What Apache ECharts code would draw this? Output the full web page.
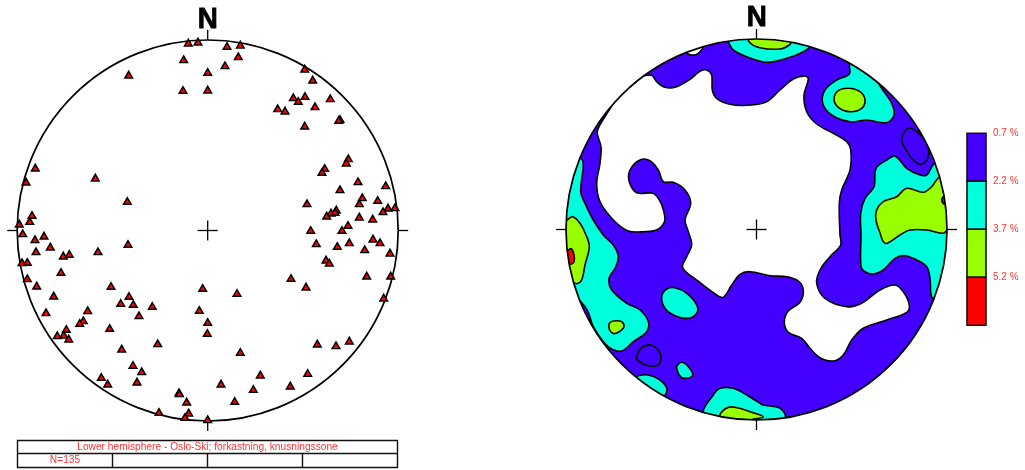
<!DOCTYPE html>
<html><head><meta charset="utf-8">
<style>html,body{margin:0;padding:0;background:#fff}#c{width:1025px;height:470px}</style>
<script src="https://cdn.jsdelivr.net/npm/echarts@6/dist/echarts.min.js"></script>
</head><body><div id="c"></div>
<script>
// Pole points, east / north offsets from the net centre (net radius = 190.5 units)
const polesNW = [[-19.4,187.8],[-9.7,188.8],[-24,171.2],[0,158.5],[-79,155.8],[-24.7,140.5],[0,140.8],[-172.4,62.8],[-181.7,48.8],[-112.4,52.8],[-80.4,29.5],[-175.7,15.5],[-178,9.5],[-188.4,6.8]];
const polesSW = [[-185,-2.8],[-163.7,-5.2],[-172.7,-8.8],[-157.4,-16.2],[-171.7,-20.8],[-109.7,-20.8],[-79.7,-13.5],[-144.4,-25.2],[-138.4,-23.5],[-185.7,-31.8],[-180.4,-31.5],[-146.7,-41.5],[-180.4,-47.8],[-171,-55.2],[-154,-65.2],[-96.7,-55.5],[-78.7,-65.5],[-87,-72.5],[-74.4,-73.5],[-55.4,-75.5],[-68.7,-84.8],[-161.7,-81.8],[-120,-79.8],[-124.4,-89.8],[-128,-92.5],[-141.4,-98.5],[-98,-97.5],[-150.4,-104.8],[-144,-104.2],[-139,-108.2],[-50,-112.8],[-86,-118.2],[-74.7,-134.5],[-66,-140.8],[-106.4,-146.5],[-100,-153.2],[-70.7,-151.2],[-28.7,-161.8],[-28.4,-162.8],[-21,-171.2],[-48.7,-181.5],[-19,-182.2],[-22.7,-186.5],[0,-188.8],[-5,-57.5],[-8.4,-79.5],[0,-91.5],[-0.4,-102.5]];
const polesSE = [[103,0.5],[134.3,0.5],[108.6,-12.8],[129.6,-15.5],[141.6,-11.8],[165.3,-8.2],[172.3,-11.8],[157,-18.8],[182.3,-22.2],[118.3,-29.2],[121.6,-32.2],[159,-45.2],[183,-45.2],[83.3,-47.5],[98.3,-56.2],[29.3,-62.5],[176,-67.2],[109.6,-113.2],[128.3,-114.8],[141.6,-110.2],[32.6,-121.5],[52.6,-144.2],[100,-142.5],[13.3,-153.2],[45.6,-158.5],[82.6,-155.2],[27,-170.5]];
const polesNE = [[19.3,184.5],[32.6,185.8],[30.6,174.2],[17.3,165.2],[97,161.8],[105,150.8],[85.6,133.2],[90.6,129.5],[97.3,134.5],[122.6,132.2],[70,122.2],[77.3,119.8],[107.3,124.2],[132.3,111.5],[131,110.5],[97,104.8],[140.6,72.2],[138.6,67.8],[117,62.5],[114.3,58.5],[150.3,49.2],[132.3,41.2],[178,45.2],[154.6,33.2],[151.6,27.2],[170,30.5],[99.3,27.2],[187.3,23.2],[180.3,22.8],[175.3,19.2],[128.6,20.8],[123.3,17.8],[127.3,18.5],[119,14.8],[151.6,13.8],[165,11.8],[140.3,5.5]];

// Contour regions, same units
const emptyMain = [[-113.2,153.5],[-104.8,154.2],[-99.8,147.8],[-91.5,142.2],[-79.8,142.8],[-66.5,150.2],[-56.5,158.2],[-49.8,159.5],[-44.8,154.5],[-44.2,139.5],[-39.8,131.2],[-26.5,125.2],[-9.8,124.2],[10.2,127.8],[23.5,139.5],[36.8,150.5],[48.5,153.5],[51.8,150.5],[47.5,134.5],[50.2,117.8],[60.2,105.5],[76.8,96.2],[90.2,87.8],[94.2,79.5],[93.5,59.5],[85.2,39.5],[82.8,26.2],[83.5,-5.5],[84.2,-15.5],[73.5,-27.2],[63.5,-40.5],[60.2,-53.8],[68.5,-68.8],[90.2,-77.2],[105.2,-73.8],[123.5,-60.5],[138.5,-55.5],[146.8,-62.2],[152.8,-75.5],[150.2,-82.8],[130.2,-90.5],[106.8,-98.8],[95.2,-110.5],[86.8,-125.5],[76.8,-131.5],[63.5,-128.2],[53.5,-118.8],[45.2,-108.8],[31.8,-102.8],[27.8,-92.2],[31.8,-81.5],[43.5,-72.8],[46.8,-60.5],[41.8,-51.5],[30.2,-47.2],[13.5,-46.2],[-6.5,-42.2],[-16.5,-44.8],[-24.8,-55.5],[-33.2,-67.8],[-39.8,-65.5],[-59.8,-50.5],[-73.8,-38.2],[-69.8,-27.2],[-64.8,-15.5],[-68.2,-2.2],[-71.5,9.5],[-65.8,26.2],[-71.5,39.5],[-83.2,47.2],[-93.2,47.8],[-98.2,59.5],[-106.5,68.8],[-116.5,69.5],[-126.5,59.5],[-127.2,47.8],[-119.8,36.8],[-101.5,35.2],[-91.5,11.2],[-98.2,0.2],[-113.2,-2.2],[-128.2,-1.5],[-143.2,9.5],[-156.5,27.8],[-159.8,46.2],[-156.5,66.2],[-155.5,82.8],[-159.2,97.8],[-151.5,112.8],[-143.2,126.2],[-129.8,149.5]];
const emptyNotch = [[-70.5,177.5],[-64.8,174.5],[-58.2,176.2],[-53.8,182.8],[-60,192]];
const lowHoleNE = [[145.2,91.2],[151.8,101.2],[160.2,97.8],[170.2,86.2],[171.8,72.8],[165.2,65.2],[156.8,69.5],[147.5,82.8]];
const lowHoleSW = [[-119.8,-127.2],[-114.8,-118.2],[-106.5,-115.5],[-98.2,-120.5],[-95.5,-128.8],[-98.2,-135.5],[-108.2,-136.2],[-118.2,-131.5]];
const midNorth = [[-28.2,191.2],[-27.5,186.2],[-23.2,179.5],[-9.8,172.8],[10.2,167.2],[30.2,171.2],[46.8,177.8],[52.8,183.5],[33.5,197.8],[-6.5,197.8]];
const midNE = [[93.5,166.2],[92.8,155.5],[80.2,149.5],[68.5,139.5],[66.2,126.2],[75.2,114.5],[93.5,107.8],[110.2,109.5],[130.2,106.8],[137.5,114.5],[135.2,126.2],[125.2,141.2],[122.8,146.2],[133.5,152.8],[106.8,172.8]];
const midEast = [[178.5,66.2],[170.2,54.5],[163.5,54.5],[150.2,61.2],[138.5,73.5],[130.2,69.5],[119.5,61.2],[117.5,42.8],[108.5,31.2],[104.2,16.2],[104.5,-5.5],[104.5,-37.2],[108.5,-42.2],[116.8,-44.5],[126.8,-40.5],[138.5,-28.8],[148.5,-26.2],[160.2,-30.5],[170.2,-37.2],[173.5,-48.8],[174.5,-65.5],[176.8,-68.8],[190.2,-55.5],[200,4.5],[193.5,62.8]];
const midWest = [[-176.5,71.2],[-173.2,66.2],[-175.8,37.8],[-171.5,26.2],[-163.2,9.5],[-153.2,-5.5],[-143.2,-15.5],[-138.2,-27.2],[-141.5,-38.8],[-147.5,-48.8],[-144.8,-60.5],[-129.8,-73.8],[-116.5,-80.5],[-108.2,-92.2],[-109.8,-102.2],[-123.2,-112.2],[-134.8,-121.5],[-144.8,-119.5],[-153.2,-112.2],[-163.2,-97.2],[-169.2,-80.5],[-177.2,-70.5],[-189.8,-55.5],[-199.8,-5.5],[-196.5,46.2],[-186.5,69.5]];
const midOval = [[-94.8,-67.2],[-89.8,-59.5],[-81.5,-58.2],[-69.8,-63.8],[-59.8,-75.5],[-59.8,-83.8],[-68.2,-88.8],[-81.5,-86.2],[-91.5,-78.8]];
const midSmall = [[-79.8,-137.2],[-74.8,-132.8],[-68.2,-137.2],[-63.8,-145.5],[-69.8,-148.8],[-75.8,-147.2]];
const midSW = [[-118.2,-146.2],[-108.2,-145.5],[-96.5,-150.5],[-89.8,-158.8],[-92.5,-166.2],[-106.5,-162.2],[-121.5,-148.8]];
const midSouth = [[-53.2,-182.8],[-43.2,-165.5],[-36.5,-158.8],[-23.2,-158.8],[-9.8,-165.5],[3.5,-173.8],[6.8,-175.5],[23.5,-178.8],[28.5,-188.2],[3.5,-198.8],[-39.8,-195.5]];
const highNorth = [[-7.5,187.8],[3.5,181.8],[23.5,180.5],[32.8,184.5],[34.2,187.8],[13.5,196.2],[-6.5,194.5]];
const highNE = [[77.5,130.5],[81.8,138.8],[91.8,141.2],[103.5,137.8],[108.5,129.5],[105.2,121.2],[93.5,117.8],[81.8,122.2]];
const highEast = [[183.5,52.8],[175.2,42.8],[166.8,37.2],[150.2,41.2],[140.2,32.8],[126.8,27.8],[120.2,19.5],[119.5,9.5],[124.2,-5.5],[126.8,-12.2],[130.8,-13.8],[143.5,-5.5],[153.5,-0.5],[170.2,-0.5],[186.8,-3.8],[190.8,-0.5],[200,4.5],[200.2,52.8]];
const highWest = [[-190.5,9.5],[-183.8,12.8],[-176.5,6.2],[-170.5,-5.5],[-167.2,-17.2],[-171.5,-35.5],[-174.8,-50.5],[-179.8,-54.2],[-183.2,-52.2],[-193.2,-28.8],[-199.8,4.5],[-196.5,12.8]];
const highSmall = [[-147.2,-93.8],[-143.2,-91.5],[-134.8,-92.2],[-132.5,-97.2],[-138.2,-102.8],[-143.8,-103.8],[-147.2,-99.5]];
const highSouth = [[-36.5,-187.2],[-31.5,-179.5],[-23.2,-177.5],[-6.5,-182.2],[6.8,-187.2],[-6.5,-190.5],[-19.8,-195.5]];
const peakEast = [[185.2,29.5],[187.5,33.5],[189.2,29.5],[187.5,25.5]];
const peakWest = [[-188.2,-20.5],[-184.8,-19.5],[-182.5,-25.5],[-182.5,-32.2],[-185.8,-34.8],[-188.2,-33.8],[-191.5,-25.5]];

// Legend
const contourLevels = [0.7, 2.2, 3.7, 5.2, 6.7];
const levelLabels = [0.7, 2.2, 3.7, 5.2];
const levelColors = ['#4400ff', '#00ffdd', '#99ff00', '#ff0000'];
const footerTitle = 'Lower hemisphere - Oslo-Ski; forkastning, knusningssone';
const footerCount = 'N=135';

const BLUE = levelColors[0], CYAN = levelColors[1], LIME = levelColors[2], RED = levelColors[3];
const regions = [
  [emptyMain,'#fff'],[emptyNotch,'#fff'],[lowHoleNE,BLUE],[lowHoleSW,BLUE],
  [midNorth,CYAN],[midNE,CYAN],[midEast,CYAN],[midWest,CYAN],[midOval,CYAN],[midSmall,CYAN],[midSW,CYAN],[midSouth,CYAN],
  [highNorth,LIME],[highNE,LIME],[highEast,LIME],[highWest,LIME],[highSmall,LIME],[highSouth,LIME],
  [peakEast,RED],[peakWest,RED]
];
const netRadius = 190.5, tickLen = 10;
const INK = '#000', TXT = '#ff3333', FONT = '"Liberation Sans", Arial, sans-serif';

const netSeries = (gridIndex) => ({
  type:'custom', xAxisIndex:gridIndex, yAxisIndex:gridIndex, silent:true, clip:false, z:5,
  data:[[0,0]],
  renderItem:(p, api) => {
    const c = api.coord([0,0]), r = api.size([netRadius,0])[0];
    const seg = (a,b) => { const s = api.coord(a), e = api.coord(b);
      return {type:'line', shape:{x1:s[0],y1:s[1],x2:e[0],y2:e[1]}, style:{stroke:INK,lineWidth:1.3}}; };
    const R = netRadius, T = netRadius + tickLen;
    return {type:'group', children:[
      {type:'circle', shape:{cx:c[0],cy:c[1],r}, style:{fill:'none',stroke:INK,lineWidth:1.7}},
      seg([-tickLen,0],[tickLen,0]), seg([0,-tickLen],[0,tickLen]),
      seg([-T,0],[-R,0]), seg([R,0],[T,0]), seg([0,R],[0,T]), seg([0,-T],[0,-R])
    ]};
  }
});

const option = {
  animation:false, backgroundColor:'#fff',
  grid:[
    {left:7.7, top:30.5, width:400, height:400},
    {left:556.5, top:29.5, width:400, height:400},
    {left:967, top:133.3, width:19, height:192}
  ],
  xAxis:[
    {type:'value', gridIndex:0, min:-200, max:200, show:false},
    {type:'value', gridIndex:1, min:-200, max:200, show:false},
    {type:'value', gridIndex:2, min:0, max:1, show:false}
  ],
  yAxis:[
    {type:'value', gridIndex:0, min:-200, max:200, show:false},
    {type:'value', gridIndex:1, min:-200, max:200, show:false},
    {type:'value', gridIndex:2, min:0.7, max:6.7, inverse:true, position:'right',
     axisLine:{show:false}, axisTick:{show:false}, splitLine:{show:false},
     axisLabel:{customValues:levelLabels, margin:7, color:TXT, fontFamily:FONT, fontSize:10,
       formatter:v => v.toFixed(1)+' %'}}
  ],
  series:[
    {type:'scatter', xAxisIndex:0, yAxisIndex:0, z:6, silent:true, clip:false,
     data:[...polesNW,...polesSW,...polesSE,...polesNE],
     symbol:'triangle', symbolSize:[7.6,6.6],
     itemStyle:{color:'#ff0000', borderColor:INK, borderWidth:1.5, opacity:1}},
    netSeries(0),
    {type:'custom', xAxisIndex:1, yAxisIndex:1, silent:true, clip:false, z:2,
     data:[[0,0]],
     renderItem:(p, api) => {
       const c = api.coord([0,0]), r = api.size([netRadius,0])[0];
       return {type:'group', children:[
         {type:'circle', shape:{cx:c[0],cy:c[1],r}, style:{fill:BLUE}},
         ...regions.map(([pts,fill]) => ({
           type:'polygon',
           shape:{points:pts.map(q => api.coord(q)), smooth:0.35},
           clipPath:{type:'circle', shape:{cx:c[0],cy:c[1],r}},
           style:{fill, stroke:INK, lineWidth:1.6}
         }))
       ]};
     }},
    netSeries(1),
    {type:'custom', xAxisIndex:2, yAxisIndex:2, silent:true, clip:false, z:3,
     data:levelColors.map((_,i) => [i]),
     renderItem:(p, api) => {
       const i = api.value(0);
       const a = api.coord([0,contourLevels[i]]), b = api.coord([1,contourLevels[i+1]]);
       return {type:'rect', shape:{x:a[0],y:a[1],width:b[0]-a[0],height:b[1]-a[1]},
         style:{fill:levelColors[i], stroke:'#111', lineWidth:1.6}};
     }}
  ],
  graphic:[
    {type:'text', x:207.8, y:19.5, scaleX:0.96, style:{text:'N', fill:INK, stroke:INK, lineWidth:0.8, font:'bold 29px '+FONT, textAlign:'center', textVerticalAlign:'middle'}},
    {type:'text', x:756.8, y:17.5, scaleX:0.96, style:{text:'N', fill:INK, stroke:INK, lineWidth:0.8, font:'bold 29px '+FONT, textAlign:'center', textVerticalAlign:'middle'}},
    {type:'rect', shape:{x:17.5,y:440.5,width:380,height:27}, style:{fill:'none',stroke:'#111',lineWidth:1.4}},
    {type:'line', shape:{x1:17.5,y1:453.5,x2:397.5,y2:453.5}, style:{stroke:'#111',lineWidth:1.4}},
    {type:'line', shape:{x1:112.5,y1:453.5,x2:112.5,y2:467.5}, style:{stroke:'#111',lineWidth:1.4}},
    {type:'line', shape:{x1:207.5,y1:453.5,x2:207.5,y2:467.5}, style:{stroke:'#111',lineWidth:1.4}},
    {type:'line', shape:{x1:302.5,y1:453.5,x2:302.5,y2:467.5}, style:{stroke:'#111',lineWidth:1.4}},
    {type:'text', x:207.5, y:447, style:{text:footerTitle, fill:TXT, font:'10.2px '+FONT, textAlign:'center', textVerticalAlign:'middle'}},
    {type:'text', x:65, y:460.5, style:{text:footerCount, fill:TXT, font:'10.2px '+FONT, textAlign:'center', textVerticalAlign:'middle'}}
  ]
};
echarts.init(document.getElementById('c'), null, {renderer:'canvas'}).setOption(option);
</script></body></html>
